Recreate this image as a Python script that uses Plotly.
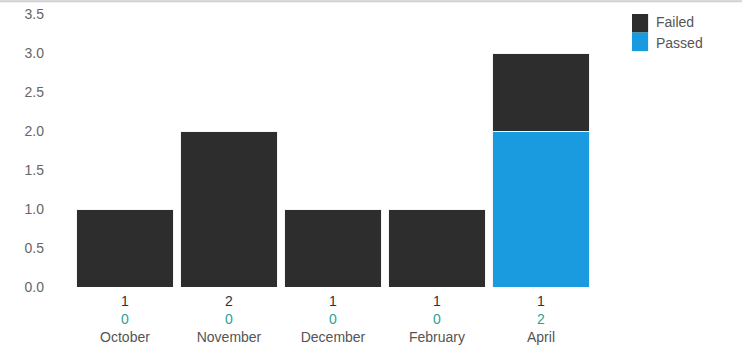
import plotly.graph_objects as go

# Monthly test outcomes
months = ["October", "November", "December", "February", "April"]
failed = [1, 2, 1, 1, 1]
passed = [0, 0, 0, 0, 2]

FAILED_COLOR = "#2d2d2d"
PASSED_COLOR = "#1a9be0"
COUNT_PASS_COLOR = "#2aa198"

tick_text = [
    f"<span style='color:#333'>{f}</span><br>"
    f"<span style='color:{COUNT_PASS_COLOR}'>{p}</span><br>{m}"
    for m, f, p in zip(months, failed, passed)
]

fig = go.Figure()
fig.add_trace(go.Bar(
    x=months, y=passed, name="Passed",
    marker=dict(color=PASSED_COLOR, line=dict(color="#f4f4f4", width=1)),
    showlegend=False,
))
fig.add_trace(go.Bar(
    x=months, y=failed, name="Failed",
    marker=dict(color=FAILED_COLOR, line=dict(color="#f4f4f4", width=1)),
    showlegend=False,
))

# Legend: stacked swatches with labels
fig.add_shape(type="rect", xref="paper", yref="paper",
              x0=1.075, x1=1.106, y0=0.932, y1=1.0,
              fillcolor=FAILED_COLOR, line=dict(width=0))
fig.add_shape(type="rect", xref="paper", yref="paper",
              x0=1.075, x1=1.106, y0=0.864, y1=0.932,
              fillcolor=PASSED_COLOR, line=dict(width=0))
for label, yc in [("Failed", 0.97), ("Passed", 0.895)]:
    fig.add_annotation(text=label, xref="paper", yref="paper",
                       x=1.118, y=yc, xanchor="left", yanchor="middle",
                       showarrow=False, font=dict(size=14, color="#555"))

# Thin frame line along the top edge
fig.add_shape(type="line", xref="paper", yref="paper",
              x0=-0.2, x1=1.3, y0=1.047, y1=1.047,
              line=dict(color="#cfcfcf", width=2))

fig.update_layout(
    width=742, height=349,
    margin=dict(l=73, r=149, t=14, b=62),
    barmode="stack", bargap=0.06,
    paper_bgcolor="white", plot_bgcolor="white",
    font=dict(family="Liberation Sans, Arial, sans-serif", size=14, color="#555"),
    xaxis=dict(tickvals=months, ticktext=tick_text, showgrid=False,
               showline=False, zeroline=False, ticks="", automargin=False,
               ticklabelstandoff=4,
               tickfont=dict(size=14, color="#555")),
    yaxis=dict(range=[0, 3.5], dtick=0.5, tickformat=".1f", showgrid=False,
               showline=False, zeroline=False, ticks="", automargin=False,
               ticklabelstandoff=28, tickfont=dict(size=14, color="#666")),
)

fig.write_html("out.html")
